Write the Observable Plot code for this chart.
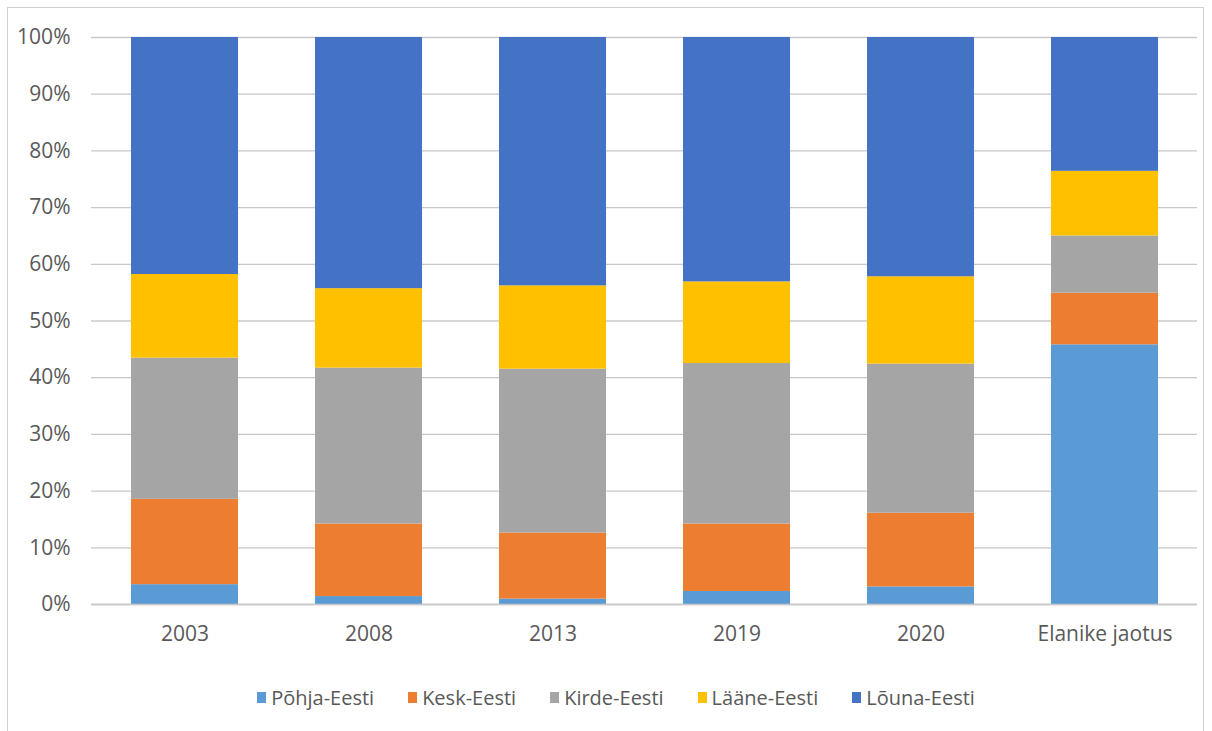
<!DOCTYPE html>
<html>
<head>
<meta charset="utf-8">
<script src="https://cdn.jsdelivr.net/npm/d3@7"></script>
<script src="https://cdn.jsdelivr.net/npm/@observablehq/plot@0.6"></script>
<style>
  body { margin: 0; background: #fff; font-family: "Open Sans", Lato, sans-serif; }
  #frame { position: absolute; left: 7px; top: 7px; width: 1197px; height: 740px; border: 1px solid #d0d0d0; box-sizing: border-box; }
  #chart { position: absolute; left: 0; top: 0; }
  #legend { position: absolute; left: 0; top: 684px; width: 1232px; display: flex; justify-content: center; gap: 34px; font-size: 20px; color: #595959; }
  .item { display: flex; align-items: center; gap: 5px; }
  .sw { width: 9px; height: 11px; display: inline-block; }
</style>
</head>
<body>
<div id="frame"></div>
<div id="chart"></div>
<div id="legend"></div>
<script>
const categories = ["2003", "2008", "2013", "2019", "2020", "Elanike jaotus"];
const regions = ["Põhja-Eesti", "Kesk-Eesti", "Kirde-Eesti", "Lääne-Eesti", "Lõuna-Eesti"];
const colors = ["#5B9BD5", "#ED7D31", "#A5A5A5", "#FFC000", "#4472C4"];
// shares (%) per category
const pohja = [3.5, 1.4, 0.95, 2.3, 3.1, 45.8];
const kesk  = [15.05, 12.8, 11.65, 11.9, 13.0, 9.1];
const kirde = [24.9, 27.5, 28.9, 28.3, 26.3, 10.1];
const laane = [14.75, 14.0, 14.7, 14.4, 15.4, 11.4];
const louna = [41.8, 44.3, 43.8, 43.1, 42.2, 23.6];
const yTicks = [0, 0.1, 0.2, 0.3, 0.4, 0.5, 0.6, 0.7, 0.8, 0.9, 1.0];

const series = [pohja, kesk, kirde, laane, louna];
const data = [];
regions.forEach((r, i) => categories.forEach((c, j) => data.push({category: c, region: r, value: series[i][j] / 100})));

const chart = Plot.plot({
  width: 1212,
  height: 660,
  marginLeft: 91,
  marginRight: 15,
  marginTop: 37,
  marginBottom: 56,
  style: { fontFamily: "'Open Sans', Lato, sans-serif", fontSize: "21px", color: "#595959", background: "transparent" },
  x: { domain: categories, paddingInner: 0.42, paddingOuter: 0.21, label: null, tickSize: 0, tickPadding: 22 },
  y: { domain: [0, 1], ticks: yTicks, tickFormat: d3.format(".0%"), label: null, tickSize: 0, tickPadding: 21 },
  color: { domain: regions, range: colors },
  marks: [
    Plot.ruleY(yTicks, { stroke: "#c8c8c8", strokeWidth: 1.3 }),
    Plot.barY(data, { x: "category", y: "value", fill: "region", z: "region", order: regions, inset: 0 }),
    Plot.ruleY([0], { stroke: "#c8c8c8", strokeWidth: 1.3 })
  ]
});
document.getElementById("chart").appendChild(chart);

const legend = document.getElementById("legend");
regions.forEach((r, i) => {
  const it = document.createElement("div");
  it.className = "item";
  const sw = document.createElement("span");
  sw.className = "sw";
  sw.style.background = colors[i];
  const t = document.createElement("span");
  t.textContent = r;
  it.appendChild(sw); it.appendChild(t);
  legend.appendChild(it);
});
</script>
</body>
</html>
